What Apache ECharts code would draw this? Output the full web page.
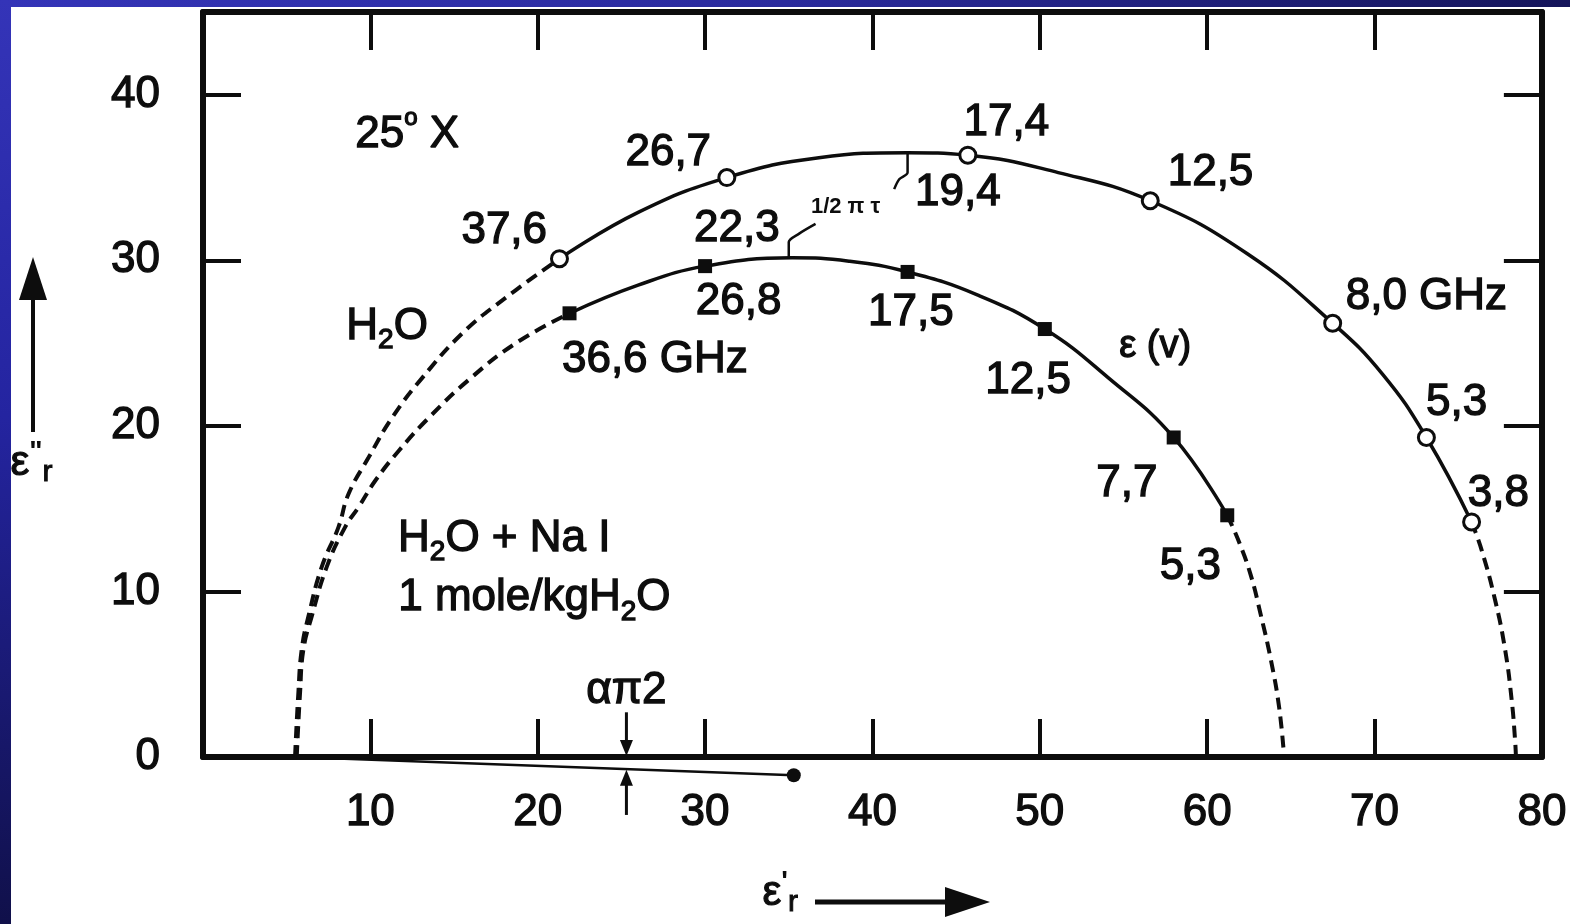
<!DOCTYPE html>
<html>
<head>
<meta charset="utf-8">
<title>Cole-Cole diagram: H2O and H2O + NaI</title>
<script src="https://cdn.jsdelivr.net/npm/echarts@6/dist/echarts.min.js"></script>
<style>
  html, body { margin: 0; padding: 0; background: #ffffff; }
  #chart { width: 1570px; height: 924px; }
</style>
</head>
<body>
<div id="chart"></div>
<script>
// ---- axes ----
const xRange = [0, 80];
const yRange = [0, 45];
const tickStep = 10;

// ---- pure water, 25 °C (open circles) ----
const waterFreqLabels = ['37,6', '26,7', '17,4', '12,5', '8,0 GHz', '5,3', '3,8'];
const waterPoints = [[21.3, 30.1], [31.3, 35.0], [45.7, 36.35], [56.6, 33.6], [67.5, 26.2], [73.1, 19.3], [75.8, 14.2]];
const waterLabelAt = [[18.0, 31.8], [27.8, 36.5], [48.0, 38.3], [60.2, 35.3], [73.1, 27.8], [74.9, 21.4], [77.4, 15.9]];
const waterArc = [[21.3, 30.1], [26.0, 32.9], [31.3, 35.0], [36.8, 36.2], [42.1, 36.5], [45.7, 36.35], [51.1, 35.3],
                  [56.6, 33.6], [62.4, 30.4], [67.5, 26.2], [70.5, 23.1], [73.1, 19.3], [75.8, 14.2]];
const waterLowTail = [[5.5, 0], [5.7, 3.9], [5.9, 6.5], [6.3, 8.5], [7.1, 11.5], [8.1, 13.9], [8.7, 15.9], [9.9, 18.1],
                      [11.3, 20.5], [13.1, 22.9], [15.5, 25.6], [17.9, 27.6], [21.3, 30.1]];
const waterHighTail = [[75.8, 14.2], [76.4, 12.5], [77.2, 9.5], [77.8, 6.5], [78.2, 3.4], [78.4, 1.0], [78.45, 0]];

// ---- H2O + NaI, 1 mole/kg (filled squares) ----
const salineFreqLabels = ['36,6 GHz', '26,8', '17,5', '12,5', '7,7', '5,3'];
const salinePoints = [[21.9, 26.8], [30.0, 29.65], [42.1, 29.3], [50.3, 25.85], [58.0, 19.3], [61.2, 14.6]];
const salineLabelAt = [[27.0, 24.0], [32.0, 27.5], [42.3, 26.8], [49.3, 22.7], [55.2, 16.5], [59.0, 11.5]];
const salineArc = [[21.9, 26.8], [26.0, 28.5], [30.0, 29.65], [35.2, 30.15], [38.6, 29.95], [42.1, 29.3], [46.3, 27.9],
                   [50.3, 25.85], [54.1, 22.9], [58.0, 19.3], [61.2, 14.6]];
const salineLowTail = [[5.6, 0], [5.8, 3.9], [6.0, 6.5], [6.5, 8.5], [7.4, 11.5], [8.5, 13.9], [9.3, 15.1], [10.3, 16.7],
                       [11.7, 18.5], [13.5, 20.5], [15.9, 22.8], [18.7, 25.0], [21.9, 26.8]];
const salineHighTail = [[61.2, 14.6], [61.9, 13.0], [62.6, 11.0], [63.2, 8.6], [63.8, 5.9], [64.3, 3.0], [64.6, 0]];

// ---- relaxation-frequency markers (1/2πτ) ----
const waterTauMark = [[42.1, 36.5], [42.1, 35.3], [41.6, 34.9], [41.3, 34.3]];
const salineTauMark = [[35.0, 30.1], [35.0, 31.1], [35.6, 31.6], [36.6, 32.2]];

// ---- depressed-centre radius and the απ/2 angle ----
const alphaRadius = [[5.6, 0], [35.3, -1.1]];
const alphaCentre = [35.3, -1.1];
const alphaArrowX = 25.3;
const alphaArrowDown = [2.7, 0.9];   // shaft above the axis, head pointing down
const alphaArrowUp = [-3.5, -1.6];   // shaft below the axis, head pointing up
const alphaHeads = [[25.3, 0.55, 180], [25.3, -1.25, 0]];

// ---- free text placed in data coordinates ----
const notes = [
  { text: '{n|25}{u|o}{n| X}', at: [12.2, 37.6] },
  { text: '{n|H}{s|2}{n|O}', at: [11.0, 26.0] },
  { text: '{n|H}{s|2}{n|O + Na I}', at: [18.0, 13.2] },
  { text: '{n|1 mole/kgH}{s|2}{n|O}', at: [19.8, 9.6] },
  { text: '{n|απ2}', at: [25.3, 4.0] },
  { text: '{n|19,4}', at: [45.1, 34.1] },
  { text: '{n|22,3}', at: [31.9, 31.9] },
  { text: '{t|1/2 π τ}', at: [38.4, 33.2] },
  { text: '{m|ε (v)}', at: [56.9, 24.8] }
];

const FONT = '"Liberation Sans", Arial, Helvetica, sans-serif';
const INK = '#0d0d0d';
const heavy = { textBorderColor: INK, textBorderWidth: 1.3 };

const richText = {
  n: Object.assign({ fontFamily: FONT, fontSize: 44, lineHeight: 56, color: INK }, heavy),
  s: Object.assign({ fontFamily: FONT, fontSize: 28, lineHeight: 28, color: INK, verticalAlign: 'bottom' }, heavy),
  u: Object.assign({ fontFamily: FONT, fontSize: 24, lineHeight: 24, color: INK, verticalAlign: 'top' }, heavy),
  m: Object.assign({ fontFamily: FONT, fontSize: 38, lineHeight: 44, color: INK }, heavy),
  t: { fontFamily: FONT, fontSize: 22, lineHeight: 26, color: INK, fontWeight: 'bold' }
};

function labelItems(texts, places, wrap) {
  return texts.map((t, i) => ({ value: places[i], name: wrap ? '{n|' + t + '}' : t }));
}

const textItems = []
  .concat(labelItems(waterFreqLabels, waterLabelAt, true))
  .concat(labelItems(salineFreqLabels, salineLabelAt, true))
  .concat(notes.map(o => ({ value: o.at, name: o.text })));

const solid = { color: INK, width: 3.5, type: 'solid' };
const dashed = { color: INK, width: 4, type: [12, 7] };

function curve(data, lineStyle, smooth) {
  return {
    type: 'line', data: data, smooth: smooth, symbol: 'none',
    lineStyle: lineStyle, silent: true, clip: false, z: 3
  };
}

// caption style for the axis quantities (ε with prime marks and subscript r)
const captionRich = {
  e: { fontFamily: FONT, fontSize: 42, lineHeight: 50, fill: INK, stroke: INK, lineWidth: 1.2 },
  p: { fontFamily: FONT, fontSize: 28, lineHeight: 26, fill: INK, verticalAlign: 'top', fontWeight: 'bold' },
  r: { fontFamily: FONT, fontSize: 30, lineHeight: 30, fill: INK, verticalAlign: 'bottom', stroke: INK, lineWidth: 1 }
};

const chart = echarts.init(document.getElementById('chart'), null, { renderer: 'canvas' });

const axisCommon = {
  type: 'value',
  interval: tickStep,
  splitLine: { show: false },
  axisLine: { show: true, onZero: false, lineStyle: { color: INK, width: 6 } },
  axisTick: { show: true, inside: true, length: 38, lineStyle: { color: INK, width: 4 } }
};

chart.setOption({
  animation: false,
  backgroundColor: '#ffffff',
  grid: { left: 203, right: 26, top: 12, bottom: 167, containLabel: false },
  xAxis: [
    Object.assign({}, axisCommon, {
      min: xRange[0], max: xRange[1], position: 'bottom',
      axisLabel: Object.assign({
        show: true, margin: 34, fontFamily: FONT, fontSize: 44, color: INK,
        formatter: v => (v === 0 ? '' : String(v))
      }, heavy)
    }),
    Object.assign({}, axisCommon, {
      min: xRange[0], max: xRange[1], position: 'top',
      axisLabel: { show: false }
    })
  ],
  yAxis: [
    Object.assign({}, axisCommon, {
      min: yRange[0], max: yRange[1], position: 'left',
      axisLabel: Object.assign({
        show: true, margin: 43, fontFamily: FONT, fontSize: 44, color: INK,
        formatter: v => (v > 40 ? '' : String(v))
      }, heavy)
    }),
    Object.assign({}, axisCommon, {
      min: yRange[0], max: yRange[1], position: 'right',
      axisLabel: { show: false }
    })
  ],
  series: [
    curve(waterArc, solid, 0.45),
    curve(waterLowTail, dashed, 0.45),
    curve(waterHighTail, dashed, 0.45),
    curve(salineArc, solid, 0.45),
    curve(salineLowTail, dashed, 0.45),
    curve(salineHighTail, dashed, 0.45),
    curve(waterTauMark, { color: INK, width: 2.5 }, 0.3),
    curve(salineTauMark, { color: INK, width: 2.5 }, 0.3),
    curve(alphaRadius, { color: INK, width: 2.5 }, false),
    curve([[alphaArrowX, alphaArrowDown[0]], [alphaArrowX, alphaArrowDown[1]]], { color: INK, width: 3 }, false),
    curve([[alphaArrowX, alphaArrowUp[0]], [alphaArrowX, alphaArrowUp[1]]], { color: INK, width: 3 }, false),
    {
      type: 'scatter', silent: true, clip: false, z: 4,
      data: alphaHeads.map(h => ({ value: [h[0], h[1]], symbolRotate: h[2] })),
      symbol: 'triangle', symbolSize: [13, 16],
      itemStyle: { color: INK, opacity: 1 }
    },
    {
      type: 'scatter', data: [alphaCentre], symbol: 'circle', symbolSize: 14, clip: false, silent: true,
      itemStyle: { color: INK, opacity: 1 }, z: 4
    },
    {
      type: 'scatter', data: waterPoints, symbol: 'circle', symbolSize: 16, silent: true,
      itemStyle: { color: '#ffffff', borderColor: INK, borderWidth: 3, opacity: 1 }, z: 5
    },
    {
      type: 'scatter', data: salinePoints, symbol: 'rect', symbolSize: 14, silent: true,
      itemStyle: { color: INK, opacity: 1 }, z: 5
    },
    {
      type: 'scatter', data: textItems, symbolSize: 1, silent: true, clip: false,
      itemStyle: { color: 'rgba(0,0,0,0)', opacity: 1 }, z: 6,
      label: {
        show: true, position: 'inside', formatter: '{b}', rich: richText,
        fontFamily: FONT, fontSize: 44, color: INK, opacity: 1
      }
    }
  ],
  graphic: [
    // blue slide frame
    {
      type: 'rect', left: 0, top: 0, shape: { width: 1570, height: 7 }, silent: true,
      style: { fill: new echarts.graphic.LinearGradient(0, 0, 1, 0, [
        { offset: 0, color: '#3434b8' }, { offset: 0.5, color: '#2a2a9c' }, { offset: 1, color: '#15155a' }]) }
    },
    {
      type: 'rect', left: 0, top: 0, shape: { width: 11, height: 924 }, silent: true,
      style: { fill: new echarts.graphic.LinearGradient(0, 0, 0, 1, [
        { offset: 0, color: '#3434b8' }, { offset: 0.45, color: '#2424a0' }, { offset: 1, color: '#10104a' }]) }
    },
    // y-axis caption with upward arrow
    {
      type: 'line', silent: true, shape: { x1: 33, y1: 432, x2: 33, y2: 290 },
      style: { stroke: INK, lineWidth: 4 }
    },
    {
      type: 'polygon', silent: true, shape: { points: [[33, 257], [19, 300], [47, 300]] },
      style: { fill: INK }
    },
    {
      type: 'text', silent: true, left: 10, top: 438,
      style: { text: '{e|ε}{p|"}{r|r}', rich: captionRich }
    },
    // x-axis caption with rightward arrow
    {
      type: 'text', silent: true, left: 762, top: 868,
      style: { text: '{e|ε}{p|\'}{r|r}', rich: captionRich }
    },
    {
      type: 'line', silent: true, shape: { x1: 815, y1: 902, x2: 955, y2: 902 },
      style: { stroke: INK, lineWidth: 5 }
    },
    {
      type: 'polygon', silent: true, shape: { points: [[990, 902], [945, 887], [945, 917]] },
      style: { fill: INK }
    }
  ]
});
</script>
</body>
</html>
